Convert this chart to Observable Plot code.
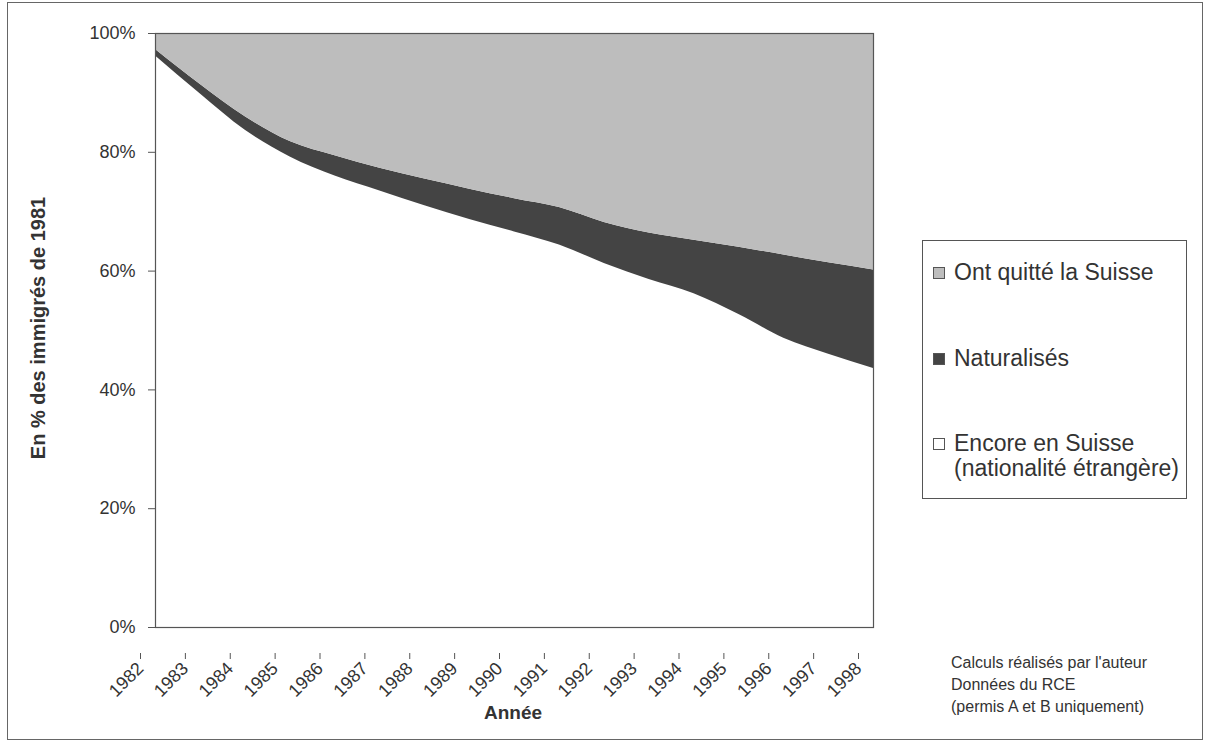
<!DOCTYPE html>
<html>
<head>
<meta charset="utf-8">
<script src="https://cdn.jsdelivr.net/npm/d3@7"></script>
<script src="https://cdn.jsdelivr.net/npm/@observablehq/plot@0.6"></script>
<style>
  html, body { margin: 0; padding: 0; background: #fff; }
  #wrap { position: relative; width: 1207px; height: 744px; overflow: hidden; font-family: "Liberation Sans", Arial, sans-serif; color: #333; }
  #border { position: absolute; left: 7px; top: 2px; width: 1196px; height: 738px; border: 1px solid #666; box-sizing: border-box; }
  #chart { position: absolute; left: 0; top: 0; }
  #ytitle { position: absolute; left: 38px; top: 328px; transform: translate(-50%, -50%) rotate(-90deg); white-space: nowrap; font-size: 20px; font-weight: bold; color: #333; }
  #xtitle { position: absolute; left: 513px; top: 713px; transform: translate(-50%, -50%); font-size: 19px; font-weight: bold; color: #333; }
  #legend { position: absolute; left: 922px; top: 240px; width: 265px; height: 259px; border: 1px solid #555; box-sizing: border-box; font-size: 23px; color: #333; }
  .item { position: absolute; left: 10px; white-space: nowrap; line-height: 25px; padding-left: 21px; }
  .sw { position: absolute; left: 0; top: 7px; width: 10px; height: 10px; border: 1px solid #555; }
  #source { position: absolute; left: 951px; top: 652px; font-size: 16px; line-height: 22px; color: #333; }
</style>
</head>
<body>
<div id="wrap">
  <div id="border"></div>
  <div id="chart"></div>
  <div id="ytitle">En % des immigrés de 1981</div>
  <div id="xtitle">Année</div>
  <div id="legend"></div>
  <div id="source">Calculs réalisés par l'auteur<br>Données du RCE<br>(permis A et B uniquement)</div>
</div>
<script>
// Years
const years = [1982,1983,1984,1985,1986,1987,1988,1989,1990,1991,1992,1993,1994,1995,1996,1997,1998];
// Share still in Switzerland (foreign nationality), %
const encore = [96.2,89.8,83.7,79.2,76.0,73.5,71.0,68.7,66.6,64.4,61.3,58.6,56.2,52.7,48.7,46.0,43.6];
// Share naturalised, %
const naturalises = [1.1,1.6,2.3,2.6,3.4,3.8,4.5,5.1,5.6,6.3,6.9,7.8,9.0,11.3,14.0,15.4,16.6];
// Share who left Switzerland, %
const quitte = [2.7,8.6,14.0,18.2,20.6,22.7,24.5,26.2,27.8,29.3,31.8,33.6,34.8,36.0,37.3,38.6,39.8];
// Category labels (stack order bottom -> top)
const categories = ["Encore en Suisse (nationalité étrangère)", "Naturalisés", "Ont quitté la Suisse"];
const colors = ["#ffffff", "#444444", "#bdbdbd"];
const yTicks = [0,20,40,60,80,100];

const series = [encore, naturalises, quitte];
const data = [];
categories.forEach((c, i) => years.forEach((yr, j) => data.push({year: yr, cat: c, value: series[i][j]})));

const chart = Plot.plot({
  width: 900,
  height: 744,
  marginLeft: 155,
  marginRight: 27,
  marginTop: 33,
  marginBottom: 117,
  style: {fontFamily: "'Liberation Sans', Arial, sans-serif", color: "#333", background: "transparent"},
  x: {type: "linear", domain: [1982, 1998]},
  y: {domain: [0, 100]},
  color: {domain: categories, range: colors},
  marks: [
    Plot.areaY(data, {x: "year", y: "value", fill: "cat", z: "cat", order: categories, curve: "monotone-x"}),
    Plot.frame({stroke: "#555", strokeWidth: 1.2}),
    Plot.axisY({ticks: yTicks, tickFormat: d => d + "%", tickSize: 7, tickPadding: 13, fontSize: 18, label: null, stroke: "#555"}),
    Plot.axisX({ticks: years, tickFormat: d => String(d), tickSize: 6, tickPadding: 6, fontSize: 18, label: null, stroke: "#555",
      tickRotate: -45, textAnchor: "end", lineAnchor: "middle", dx: -15, dy: 26})
  ]
});
document.getElementById("chart").appendChild(chart);

// Legend (top -> bottom: left, naturalised, still in Switzerland)
const legend = document.getElementById("legend");
const legendItems = [
  {label: "Ont quitté la Suisse", color: colors[2], top: 19},
  {label: "Naturalisés", color: colors[1], top: 105},
  {label: "Encore en Suisse<br>(nationalité étrangère)", color: colors[0], top: 190}
];
legendItems.forEach(it => {
  const d = document.createElement("div");
  d.className = "item";
  d.style.top = it.top + "px";
  d.innerHTML = `<span class="sw" style="background:${it.color}"></span>${it.label}`;
  legend.appendChild(d);
});
</script>
</body>
</html>
